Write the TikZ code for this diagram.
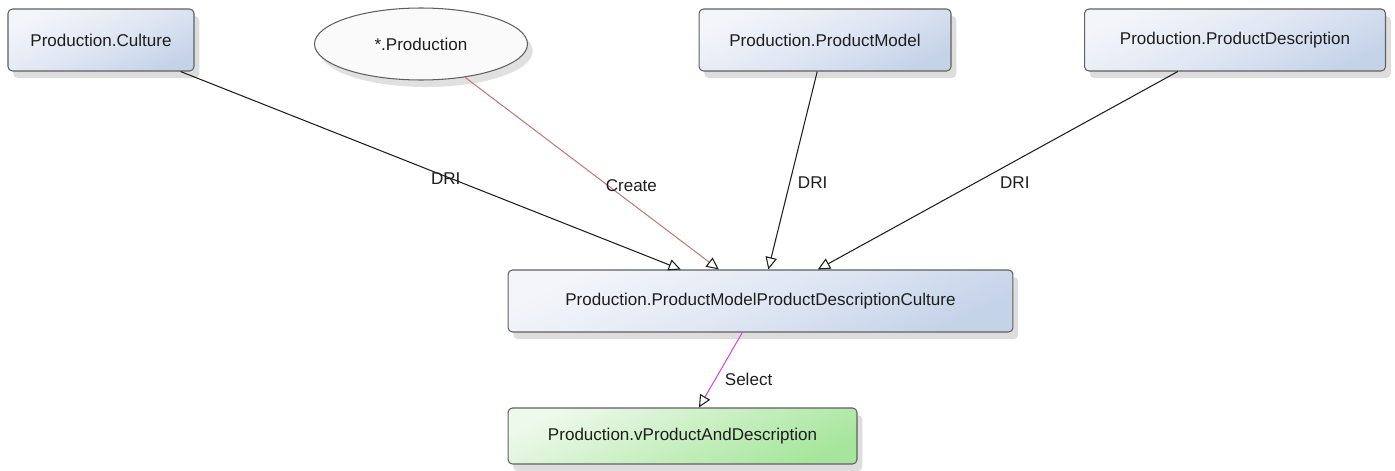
\documentclass[tikz,border=0pt]{standalone}
\usepackage{fontspec}
\setmainfont{Liberation Sans}
\usetikzlibrary{arrows.meta, shapes.geometric, shadows}
\definecolor{boxblue}{HTML}{C5D3E9}
\definecolor{boxlight}{HTML}{F3F5FA}
\definecolor{boxgreen}{HTML}{A6E69C}
\definecolor{greenlight}{HTML}{EDF9EA}
\definecolor{edgecreate}{HTML}{C07A7A}
\definecolor{edgeselect}{HTML}{D24CD8}
\definecolor{textgray}{HTML}{1E1E1E}

\begin{document}
\begin{tikzpicture}[x=0.02cm,y=-0.02cm,>={Triangle[length=7pt,width=6.5pt,fill=white,color=textgray]},font=\fontsize{9.7}{11}\selectfont,text=textgray,tablebox/.style={draw=gray!75!black, line width=0.6pt, rounded corners=2.5pt, top color=boxlight, bottom color=boxblue, middle color=boxlight!60!boxblue, shading angle=25, minimum height=1.24cm, drop shadow={shadow xshift=3pt, shadow yshift=-4pt, opacity=0.22, fill=black!60}},viewbox/.style={tablebox, top color=greenlight, bottom color=boxgreen, middle color=greenlight!50!boxgreen, shading angle=25, minimum height=1.12cm},schemaell/.style={ellipse, draw=gray!75!black, line width=0.6pt, fill=gray!4, minimum width=4.26cm, minimum height=1.44cm, inner sep=0pt, drop shadow={shadow xshift=3pt, shadow yshift=-4pt, opacity=0.2, fill=black!60}},drilink/.style={->, draw=textgray, line width=0.6pt},createlink/.style={->, draw=edgecreate, line width=0.6pt},selectlink/.style={->, draw=edgeselect, line width=0.6pt}]
\useasboundingbox (0,0) rectangle (1395,470);
\node[tablebox, minimum width=3.72cm] (culture) at (101,40) {Production.Culture};
\node[schemaell] (schema) at (421,44) {*.Production};
\node[tablebox, minimum width=5.04cm] (model) at (825,40) {Production.ProductModel};
\node[tablebox, minimum width=6.02cm] (descr) at (1235,40) {Production.ProductDescription};
\node[tablebox, minimum width=10.1cm] (pmpdc) at (760.5,301) {Production.ProductModelProductDescriptionCulture};
\node[viewbox, minimum width=6.98cm] (vpad) at (682.5,436) {Production.vProductAndDescription};
\draw[drilink] (culture) -- (pmpdc) node[pos=0.53, yshift=-1.5pt] {DRI};
\draw[createlink] (schema) -- (pmpdc) node[pos=0.6, xshift=8pt, yshift=4pt] {Create};
\draw[drilink] (model) -- (pmpdc) node[pos=0.56, right=1pt] {DRI};
\draw[drilink] (descr) -- (pmpdc) node[pos=0.56, xshift=22pt] {DRI};
\draw[selectlink] (pmpdc) -- (vpad) node[pos=0.63, right=2pt] {Select};
\end{tikzpicture}
\end{document}
